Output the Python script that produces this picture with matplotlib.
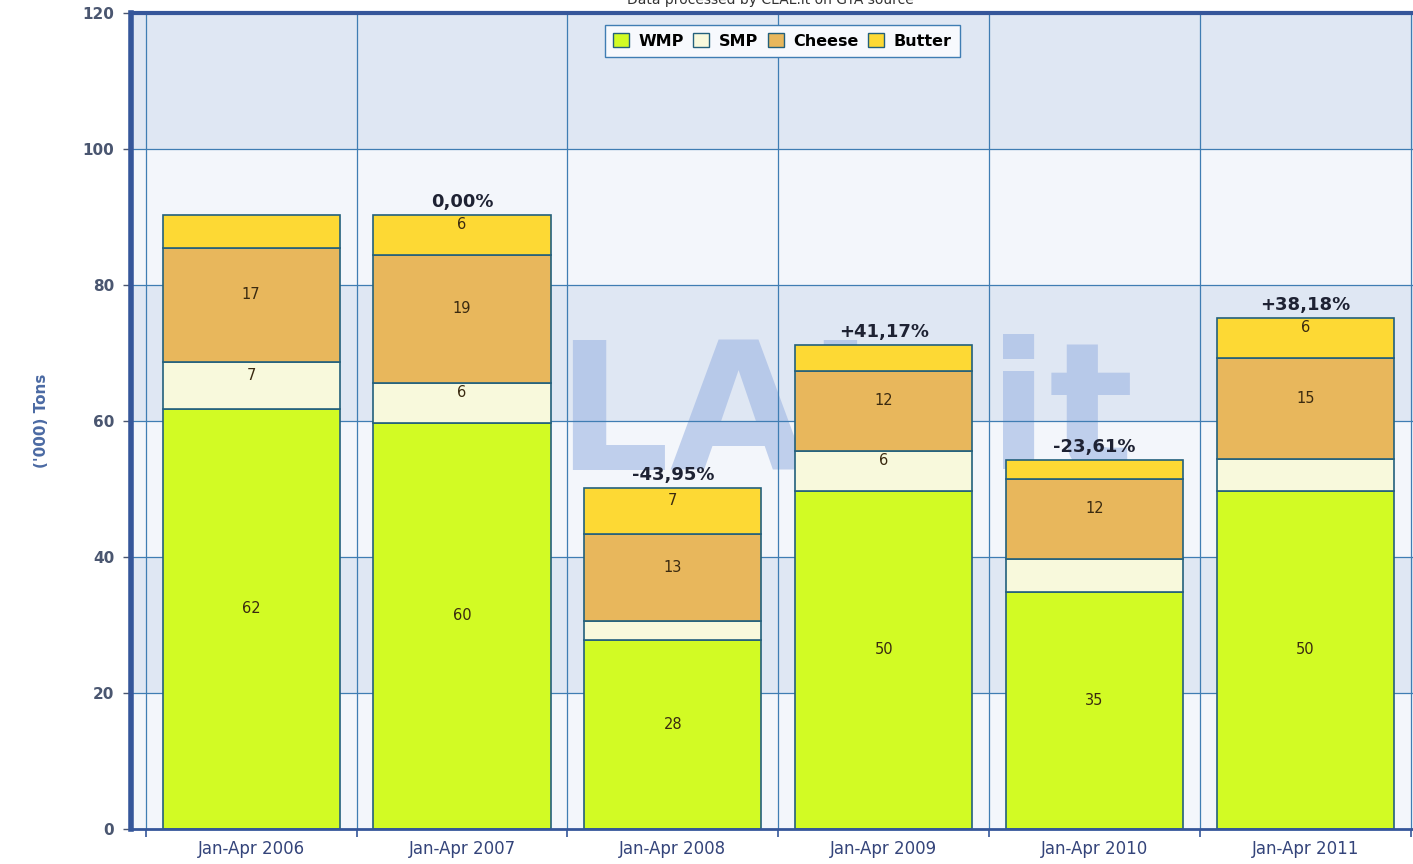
import matplotlib
matplotlib.use("Agg")
import matplotlib.pyplot as plt
import numpy as np
from matplotlib.patches import Patch

# data ('000 tons)
periods = ["Jan-Apr 2006", "Jan-Apr 2007", "Jan-Apr 2008",
           "Jan-Apr 2009", "Jan-Apr 2010", "Jan-Apr 2011"]
wmp = [61.8, 59.7, 27.8, 49.7, 34.9, 49.7]
smp = [6.9, 5.9, 2.8, 5.9, 4.8, 4.7]
cheese = [16.7, 18.8, 12.8, 11.8, 11.8, 14.9]
butter = [4.9, 5.9, 6.7, 3.8, 2.8, 5.8]
changes = ["", "0,00%", "-43,95%", "+41,17%", "-23,61%", "+38,18%"]

series = [("WMP", wmp, "#d2fb24"),
          ("SMP", smp, "#f8f9dc"),
          ("Cheese", cheese, "#e8b75c"),
          ("Butter", butter, "#fdd934")]

edge = "#23607c"
grid_c = "#3f7db3"
axis_c = "#35569a"

fig = plt.figure(figsize=(14.13, 8.64), dpi=100)
ax = fig.add_axes([0.0927, 0.0405, 0.9073, 0.9445])

x = np.arange(len(periods))
ax.set_xlim(-0.57, 5.51)
ax.set_ylim(0, 120)

# alternating background bands
for i, lo in enumerate(range(0, 120, 20)):
    ax.axhspan(lo, lo + 20, color="#f3f6fb" if i % 2 == 0 else "#dfe7f3",
               zorder=0, lw=0)

# watermark logo, behind the bars
ax.text(2.51, 60, "CLAL.it", ha="center", va="center", fontsize=128,
        fontweight="bold", color="#9db5e3", alpha=0.6, zorder=0.5)

for y in range(20, 120, 20):
    ax.axhline(y, color=grid_c, lw=0.9, zorder=1)
for b in np.arange(-0.5, 5.6, 1.0):
    ax.axvline(b, color=grid_c, lw=0.9, zorder=1)

bottom = np.zeros(len(periods))
for name, vals, col in series:
    vals = np.array(vals)
    ax.bar(x, vals, width=0.84, bottom=bottom, color=col, edgecolor=edge,
           lw=1.2, zorder=2, label=name)
    for xi, b0, v in zip(x, bottom, vals):
        if v >= 5.5:
            ax.text(xi, b0 + v / 2 + 1.5, f"{v:.0f}", ha="center", va="center",
                    fontsize=10.5, color="#3a2a10", zorder=3)
    bottom = bottom + vals

for xi, top, lab in zip(x, bottom, changes):
    if lab:
        ax.text(xi, top + 0.6, lab, ha="center", va="bottom", fontsize=13,
                fontweight="bold", color="#1e2233", zorder=3)

ax.set_yticks(range(0, 121, 20))
ax.set_yticklabels([str(v) for v in range(0, 121, 20)], fontweight="bold",
                   color="#4a5670", fontsize=11)
ax.set_xticks(np.arange(-0.5, 5.6, 1.0))
ax.set_xticklabels([])
ax.set_xticks(x, minor=True)
ax.set_xticklabels(periods, minor=True, fontsize=12, color="#34447a")
ax.tick_params(axis="x", which="minor", length=0, pad=8)
ax.tick_params(axis="x", which="major", length=6, color=axis_c, width=1.2)
ax.tick_params(axis="y", length=6, color="#4a5670", width=1, pad=6)
ax.set_ylabel("('000) Tons", fontweight="bold", color="#4b6aa3",
              fontsize=11, labelpad=24)

ax.spines["left"].set_color(axis_c)
ax.spines["left"].set_linewidth(4)
ax.spines["top"].set_color(axis_c)
ax.spines["top"].set_linewidth(3)
ax.spines["bottom"].set_color(axis_c)
ax.spines["bottom"].set_linewidth(2)
ax.spines["right"].set_visible(False)

handles = [Patch(facecolor=c, edgecolor=edge, label=n) for n, _, c in series]
leg = ax.legend(handles=handles, loc="upper center", ncol=4,
                bbox_to_anchor=(0.508, 0.995), frameon=True, fancybox=False,
                handlelength=1.0, handleheight=1.0, handletextpad=0.6,
                columnspacing=0.6, borderpad=0.5,
                prop={"weight": "bold", "size": 11.5})
leg.get_frame().set_edgecolor(grid_c)
leg.get_frame().set_facecolor("#f7f9fd")
leg.get_frame().set_alpha(1)
leg.set_zorder(4)

fig.text(0.545, 1.0, "Data processed by CLAL.it on GTA source",
         ha="center", va="center", fontsize=10, color="#333333")

fig.savefig("out.png", dpi=100)
